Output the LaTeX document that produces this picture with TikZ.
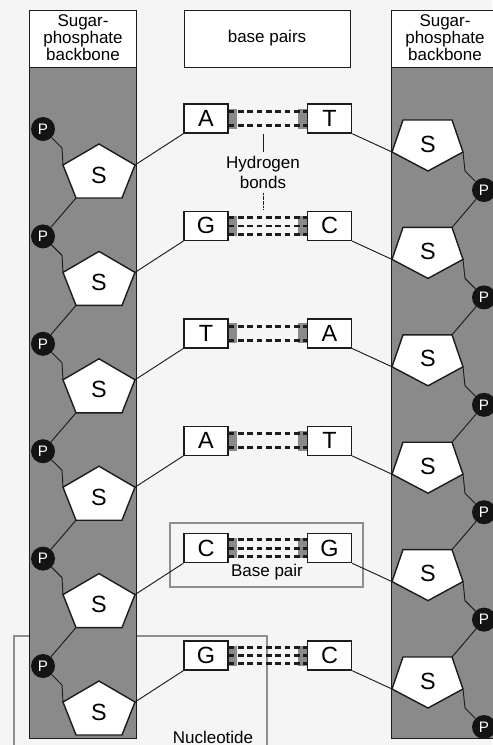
\documentclass[tikz,border=0pt]{standalone}
\usepackage{fontspec}
\setmainfont{Liberation Sans}
\usepackage{xcolor}
\usepackage{tikz}
\usetikzlibrary{positioning}
\definecolor{DPaper}{HTML}{F5F5F5}
\definecolor{DStrand}{HTML}{8A8A8A}
\definecolor{DInk}{HTML}{1C1C1C}
\definecolor{DFrame}{HTML}{8E8E8E}

\begin{document}
\begin{tikzpicture}[
  x=0.03cm, y=-0.03cm,
  hdr/.style={font=\fontsize{14.5}{12.8}\selectfont,align=center,inner sep=0pt},
  lbl/.style={font=\fontsize{14.5}{17}\selectfont,align=center,inner sep=0pt},
  base/.style={draw=DInk,line width=1.2pt,fill=white,minimum width=1.32cm,
    minimum height=0.87cm,inner sep=0pt,font=\fontsize{20}{20}\selectfont},
  sug/.style={draw=DInk,line width=1.2pt,fill=white,line join=miter},
  sym/.style={inner sep=0pt,font=\fontsize{20}{20}\selectfont},
  phos/.style={circle,fill=black!92,minimum size=0.72cm,inner sep=0pt,
    text=white,font=\fontsize{13}{13}\selectfont},
  lnk/.style={draw=DInk,line width=0.8pt},
  hb/.style={draw=DInk,line width=2.4pt,dash pattern=on 0.17cm off 0.11cm},
  frame/.style={draw=DFrame,line width=1.2pt}
]
  \fill[DPaper] (0,0) rectangle (492,745);
  \useasboundingbox (0,0) rectangle (492,745);
  % frames behind the strands
  \draw[frame] (14,745) -- (14,636) -- (267,636) -- (267,745);
  \draw[frame] (170,523) rectangle (363,587);
  % backbones and headers
  \fill[DStrand] (29,67) rectangle (136,738);
  \fill[DStrand] (391,67) rectangle (500,738);
  \draw[DInk,line width=0.8pt,fill=white] (29,10) rectangle (136,67);
  \draw[DInk,line width=0.8pt,fill=white] (391,10) rectangle (500,67);
  \draw[DInk,line width=0.8pt] (29,67) rectangle (136,738);
  \draw[DInk,line width=0.8pt] (391,67) rectangle (500,738);
  \draw[DInk,line width=0.8pt,fill=white] (184,10) rectangle (350,67);
  \node[hdr] (hdl) at (83,38) {Sugar-\\phosphate\\backbone};
  \node[hdr] (hdr) at (445,38) {Sugar-\\phosphate\\backbone};
  \node[hdr] (hdm) at (267,38) {base pairs};
  % one row per base pair
  \foreach \i/\lb/\rb/\nb in {1/A/T/2,2/G/C/3,3/T/A/2,4/A/T/2,5/C/G/3,6/G/C/3} {
    \pgfmathsetmacro{\r}{118+107.4*(\i-1)}
    \draw[sug] (99,\r+26) coordinate (sl\i-t) -- (135,\r+47) coordinate (sl\i-ur)
      -- (122,\r+80) coordinate (sl\i-lr) -- (76,\r+80) coordinate (sl\i-ll)
      -- (63,\r+47) coordinate (sl\i-ul) -- cycle;
    \draw[sug] (403,\r+2) coordinate (sr\i-tl) -- (452,\r+2) coordinate (sr\i-tr)
      -- (463,\r+34) coordinate (sr\i-r) -- (428,\r+53) coordinate (sr\i-b)
      -- (392,\r+34) coordinate (sr\i-l) -- cycle;
    \node[sym] (sl\i) at (99,\r+57) {S};
    \node[sym] (sr\i) at (428,\r+26) {S};
    \node[phos] (pl\i) at (43,\r+11) {P};
    \node[phos] (pr\i) at (484,\r+72) {P};
    \coordinate (kl\i) at (62,\r+30);
    \coordinate (kr\i) at (465,\r+53);
    \node[base] (bl\i) at (206,\r+0.5) {\lb};
    \node[base] (br\i) at (329.5,\r+0.5) {\rb};
    \fill[DStrand] ([yshift=-0.3cm]bl\i.east) rectangle ++(0.25cm,0.6cm);
    \fill[DStrand] ([yshift=-0.3cm]br\i.west) rectangle ++(-0.25cm,0.6cm);
    \ifnum\nb=2 \def\ofs{-0.21,0.21}\else\def\ofs{-0.25,0,0.25}\fi
    \foreach \o in \ofs
      {\draw[hb] ([yshift=\o cm]bl\i.east) -- ([yshift=\o cm]br\i.west);}
  }
  \foreach \i in {1,...,6} {
    \draw[lnk] (pl\i) -- (kl\i) -- (sl\i-ul);
    \draw[lnk] (sr\i-r) -- (kr\i) -- (pr\i);
    \draw[lnk] (bl\i.south west) -- (sl\i-ur);
    \draw[lnk] (br\i.south east) -- (sr\i-l);
  }
  \foreach \i [evaluate=\i as \j using int(\i+1)] in {1,...,5} {
    \draw[lnk] (sl\i-ll) -- (pl\j);
    \draw[lnk] (pr\i) -- (sr\j-tr);
  }
  % labels
  \node[lbl] (hyd) at (263,172) {Hydrogen\\bonds};
  \draw[lnk] ([yshift=3pt]hyd.north) -- (hyd.north |- bl1.south);
  \draw[lnk,dash pattern=on 1.6pt off 0.6pt] ([yshift=-4pt]hyd.south) -- (hyd.south |- bl2.north);
  \node[lbl] (bpair) at (267,572) {Base pair};
  \node[lbl] (nuc) at (213,737) {Nucleotide};
\end{tikzpicture}
\end{document}
